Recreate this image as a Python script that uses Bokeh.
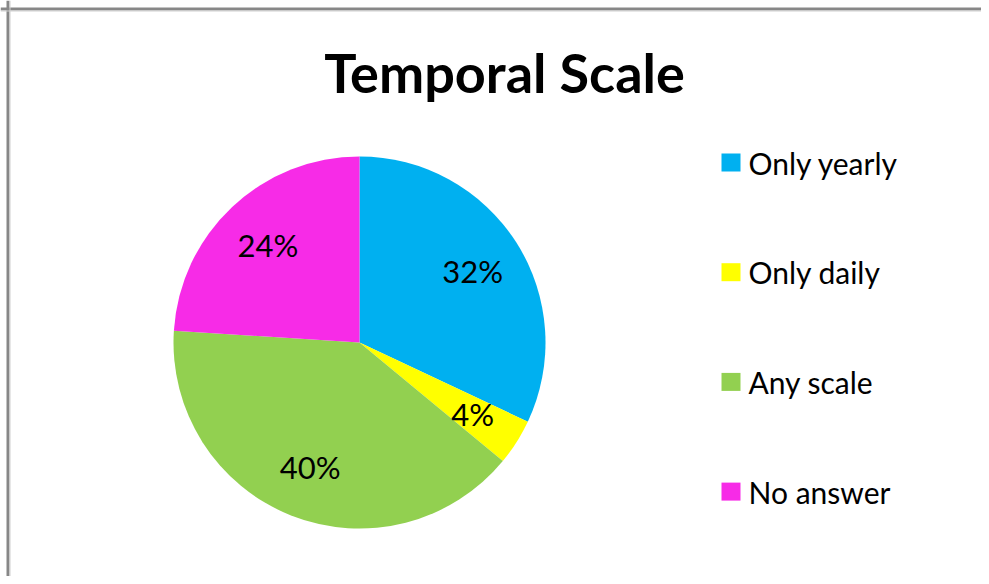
import math
from bokeh.plotting import figure
from bokeh.models import Range1d, ColumnDataSource, Span
from bokeh.core.properties import value
from bokeh.embed import file_html
from bokeh.resources import INLINE

# ---- data ----
categories = ["Only yearly", "Only daily", "Any scale", "No answer"]
percent = [32, 4, 40, 24]
colors = ["#00B0F0", "#FFFF00", "#92D050", "#F72BE7"]
title_text = "Temporal Scale"

# ---- layout (pixel coordinates of the picture; y measured from the top) ----
W, H = 981, 576
TOP = 584  # y-data = TOP - pixel_y
cx, cy = 359, TOP - 342
R = 186
LABEL_FRAC = 0.72
FONT = "Lato"

p = figure(width=W, height=H, output_backend="svg", toolbar_location=None,
           x_range=Range1d(0, W), y_range=Range1d(TOP - H, TOP),
           min_border=0, background_fill_color="white", border_fill_color="white",
           outline_line_color=None)
p.axis.visible = False
p.grid.visible = False

total = sum(percent)
starts, ends, lx, ly, labels = [], [], [], [], []
cum = 0.0
for v in percent:
    a0 = math.pi / 2 - 2 * math.pi * cum / total
    a1 = math.pi / 2 - 2 * math.pi * (cum + v) / total
    starts.append(a0)
    ends.append(a1)
    mid = (a0 + a1) / 2
    lx.append(cx + LABEL_FRAC * R * math.cos(mid))
    ly.append(cy + LABEL_FRAC * R * math.sin(mid))
    labels.append(f"{v}%")
    cum += v

src = ColumnDataSource(dict(cat=categories, start=starts, end=ends, color=colors,
                            lx=lx, ly=ly, label=labels))

p.wedge(x=cx, y=cy, radius=R, start_angle="start", end_angle="end", direction="clock",
        fill_color="color", line_color=None, source=src)

p.text(x="lx", y="ly", text="label", source=src, text_font=value(FONT),
       text_font_size="31px", text_color="#000000", text_align="center",
       text_baseline="middle")

# legend
leg_x0 = 721
leg_y_top = TOP - 162
leg_step = 109.7
leg_y = [leg_y_top - i * leg_step for i in range(len(categories))]
lsrc = ColumnDataSource(dict(cat=categories, color=colors, y=leg_y,
                             bx=[leg_x0 + 9.5] * len(categories),
                             tx=[leg_x0 + 27] * len(categories)))
p.rect(x="bx", y="y", width=19, height=18, fill_color="color", line_color=None, source=lsrc)
p.text(x="tx", y="y", text="cat", source=lsrc, text_font=value(FONT),
       text_font_size="30px", text_color="#000000", text_align="left",
       text_baseline="middle")

# title
p.text(x=[504], y=[TOP - 72], text=[title_text], text_font=value(FONT),
       text_font_style="bold", text_font_size="54px", text_color="#000000",
       text_align="center", text_baseline="middle")

# chart border (only left and top edges are inside the picture)
p.add_layout(Span(location=7.5, dimension="height", line_color="#878787", line_width=3))
p.add_layout(Span(location=TOP - 8.5, dimension="width", line_color="#878787", line_width=3))
p.add_layout(Span(location=9.5, dimension="height", line_color="#D0D0D0", line_width=1))
p.add_layout(Span(location=TOP - 10.5, dimension="width", line_color="#D0D0D0", line_width=1))

open("out.html", "w").write(file_html(p, INLINE))
